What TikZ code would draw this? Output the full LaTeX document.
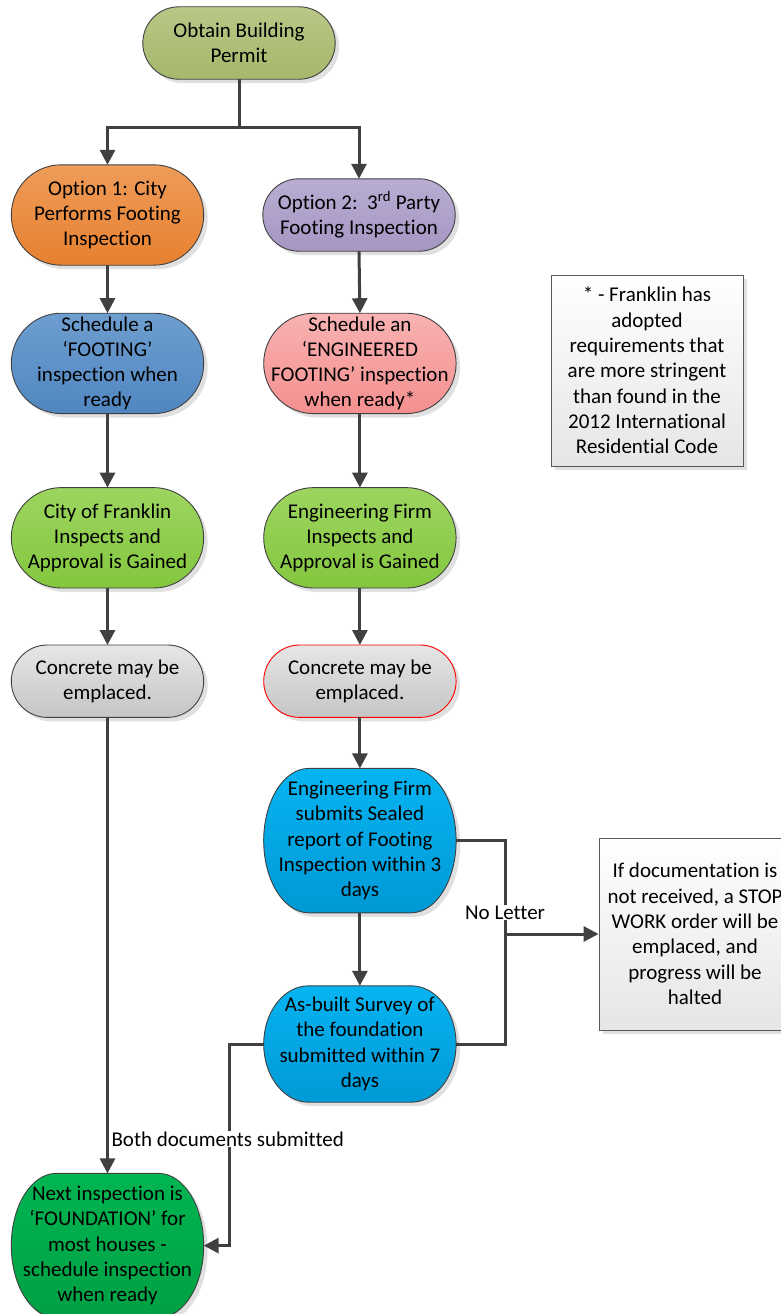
\documentclass[tikz,border=0pt]{standalone}
\usepackage{fontspec}
\setmainfont{Carlito}[Ligatures=NoCommon]
\usetikzlibrary{arrows.meta,positioning,shadows,calc}

\pgfdeclarelayer{background}
\pgfsetlayers{background,main}

\definecolor{linegray}{HTML}{404040}
\definecolor{permit1}{HTML}{B9C787}
\definecolor{permit2}{HTML}{A5B86B}
\definecolor{orange1}{HTML}{EE9C5A}
\definecolor{orange2}{HTML}{E7802F}
\definecolor{purple1}{HTML}{B9ADD3}
\definecolor{purple2}{HTML}{A596C2}
\definecolor{blue1}{HTML}{6E9ED0}
\definecolor{blue2}{HTML}{5086C0}
\definecolor{pink1}{HTML}{F9B2B2}
\definecolor{pink2}{HTML}{F48F8F}
\definecolor{green1}{HTML}{9DD560}
\definecolor{green2}{HTML}{83C73E}
\definecolor{gray1}{HTML}{E6E6E6}
\definecolor{gray2}{HTML}{C5C5C5}
\definecolor{cyan1}{HTML}{06B4F2}
\definecolor{cyan2}{HTML}{0099D5}
\definecolor{next1}{HTML}{00B552}
\definecolor{next2}{HTML}{00A044}

\begin{document}
\begin{tikzpicture}[x=1pt, y=1pt, font=\fontsize{21}{25.3}\selectfont,
  >={Triangle[length=15pt,width=15pt]},
  unit/.style={rectangle, minimum width=192pt, inner sep=0pt, align=center},
  capsule/.style={line width=0.9pt, drop shadow={shadow xshift=4pt, shadow yshift=-4pt, fill=black!12, opacity=1}},
  note/.style={rectangle, draw=black!65, line width=0.9pt, minimum width=192pt, top color=white, bottom color=black!10, align=center, drop shadow={shadow xshift=4pt, shadow yshift=-4pt, fill=black!12, opacity=1}},
  flow/.style={draw=linegray, line width=3pt},
  tag/.style={fill=white, inner sep=1pt}]

\useasboundingbox (0,0) rectangle (781,-1314);

%Nodes
\node[unit, minimum height=72pt]  (permit) at (239,-43) {Obtain Building\\Permit};
\node[unit, minimum height=100pt] (opt1) at (107.5,-215) {Option 1: City\\Performs Footing\\Inspection};
\node[unit, minimum height=72pt]  (opt2) at (359,-215) {Option 2:\ \ 3\textsuperscript{rd} Party\\Footing Inspection};
\node[unit, minimum height=100pt] (sched1) [below=48pt of opt1] {Schedule a\\‘FOOTING’\\inspection when\\ready};
\node[unit, minimum height=100pt] (sched2) [right=60pt of sched1] {Schedule an\\‘ENGINEERED\\FOOTING’ inspection\\when ready*};
\node[unit, minimum height=100pt] (insp1) [below=74pt of sched1] {City of Franklin\\Inspects and\\Approval is Gained};
\node[unit, minimum height=100pt] (insp2) [right=60pt of insp1] {Engineering Firm\\Inspects and\\Approval is Gained};
\node[unit, minimum height=72pt]  (conc1) [below=57pt of insp1] {Concrete may be\\emplaced.};
\node[unit, minimum height=72pt]  (conc2) [right=60pt of conc1] {Concrete may be\\emplaced.};
\node[unit, minimum height=144pt] (submit) [below=51pt of conc2] {Engineering Firm\\submits Sealed\\report of Footing\\Inspection within 3\\days};
\node[unit, minimum height=116pt] (survey) [below=73pt of submit] {As-built Survey of\\the foundation\\submitted within 7\\days};
\node[unit, minimum height=144pt] (next) [below=456pt of conc1] {Next inspection is\\‘FOUNDATION’ for\\most houses -\\schedule inspection\\when ready};
\node[note, minimum height=191pt] (remark) at (647,-370.5) {* - Franklin has\\adopted\\requirements that\\are more stringent\\than found in the\\2012 International\\Residential Code};
\node[note, minimum height=192pt] (stop) at (695,-934) {If documentation is\\not received, a STOP\\WORK order will be\\emplaced, and\\progress will be\\halted};

%Shapes behind the texts
\begin{pgfonlayer}{background}
\foreach \u/\rx/\c/\e in {permit/36/permit/black!75, opt1/50/orange/black!75, opt2/36/purple/black!75,
    sched1/50/blue/black!75, sched2/50/pink/black!75, insp1/50/green/black!75, insp2/50/green/black!75,
    conc1/36/gray/black!75, conc2/36/gray/red, submit/45/cyan/black!75, survey/45/cyan/black!75, next/45/next/black!75}
  \draw[capsule, draw=\e, top color=\c1, bottom color=\c2]
    let \p1=(\u.north west), \p2=(\u.south east), \n1={(\y1-\y2)/2} in
    (\x1+\rx pt,\y1) -- (\x2-\rx pt,\y1)
    arc[start angle=90, end angle=-90, x radius=\rx pt, y radius=\n1]
    -- (\x1+\rx pt,\y2)
    arc[start angle=-90, end angle=-270, x radius=\rx pt, y radius=\n1] -- cycle;
\end{pgfonlayer}

\coordinate (fork) at ($(submit.east)+(49,0)$);
\coordinate (dock) at ($(survey.west)+(-34,0)$);

%Lines
\draw[flow, ->] (permit.south) -- ++(0,-48) -| (opt1.north);
\draw[flow, ->] (permit.south) -- ++(0,-48) -| (opt2.north);
\draw[flow, ->] (opt1.south) -- (sched1.north);
\draw[flow, ->] (sched1.south) -- (insp1.north);
\draw[flow, ->] (insp1.south) -- (conc1.north);
\draw[flow, ->] (opt2.south) -- (sched2.north);
\draw[flow, ->] (sched2.south) -- (insp2.north);
\draw[flow, ->] (insp2.south) -- (conc2.north);
\draw[flow, ->] (conc2.south) -- (submit.north);
\draw[flow, ->] (submit.south) -- (survey.north);

\draw[flow] (submit.east) -- (fork) |- (survey.east);
\draw[flow, ->] (fork |- stop.west) -- (stop.west);
\node[tag] (noletter) at ($(fork)+(0,-72)$) {No Letter};

\draw[flow, ->] (survey.west) -- (dock) |- (next.east);
\node[tag] (bothdocs) at ($(dock)+(-2,-95)$) {Both documents submitted};
\draw[flow, ->] (conc1.south) -- (next.north);

\end{tikzpicture}
\end{document}
